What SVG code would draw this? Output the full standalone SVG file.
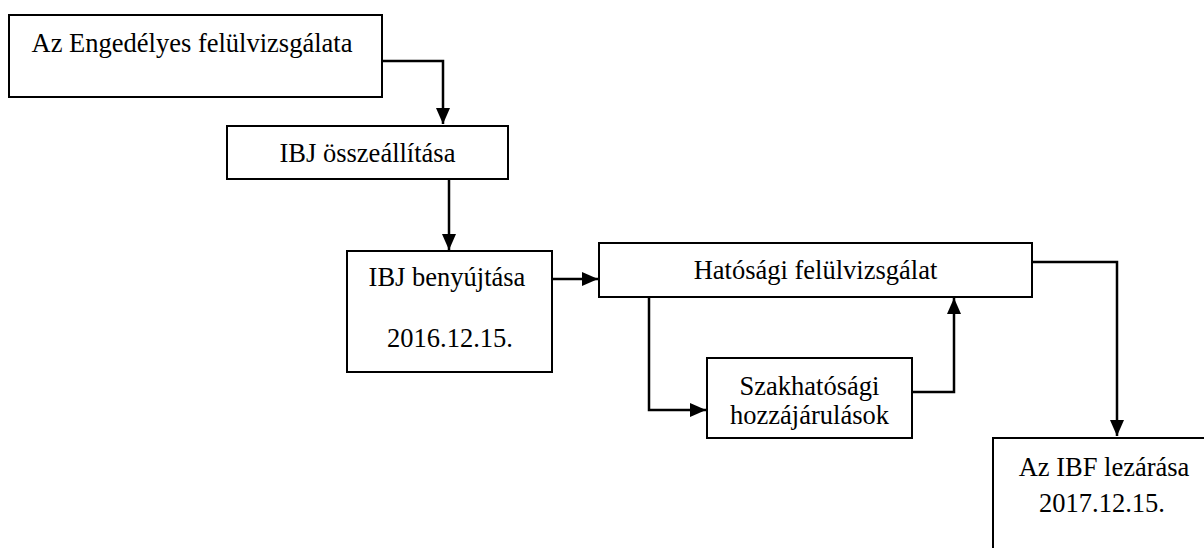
<svg xmlns="http://www.w3.org/2000/svg" width="1204" height="548" viewBox="0 0 1204 548">
<style>
.box{fill:#fff;stroke:#000;stroke-width:2}
.t{font-family:'Liberation Serif','Times New Roman',serif;font-size:26.5px;fill:#000;text-anchor:middle}
.c{fill:none;stroke:#000;stroke-width:2.5}
</style>
<defs>
<marker id="ah" markerUnits="userSpaceOnUse" markerWidth="16" markerHeight="14" refX="16" refY="7" orient="auto">
<path d="M0,0 L16,7 L0,14 z" fill="#000"/>
</marker>
</defs>
<rect width="1204" height="548" fill="#fff"/>
<g id="connectors">
<path class="c" d="M382,61 H443 V124" marker-end="url(#ah)"/>
<path class="c" d="M449,179 V250" marker-end="url(#ah)"/>
<path class="c" d="M552,279 H598" marker-end="url(#ah)"/>
<path class="c" d="M649,297 V410 H706" marker-end="url(#ah)"/>
<path class="c" d="M912,392 H954 V298" marker-end="url(#ah)"/>
<path class="c" d="M1032,262 H1117 V436" marker-end="url(#ah)"/>
</g>
<g id="n1">
<rect class="box" x="9" y="15" width="373" height="82"/>
<text class="t" x="192" y="52">Az Engedélyes felülvizsgálata</text>
</g>
<g id="n2">
<rect class="box" x="227" y="126" width="281" height="53"/>
<text class="t" x="367.5" y="162">IBJ összeállítása</text>
</g>
<g id="n3">
<rect class="box" x="347" y="251" width="205" height="121"/>
<text class="t" x="447" y="286">IBJ benyújtása</text>
<text class="t" x="450" y="347">2016.12.15.</text>
</g>
<g id="n4">
<rect class="box" x="599" y="243" width="433" height="54"/>
<text class="t" x="815.5" y="279">Hatósági felülvizsgálat</text>
</g>
<g id="n5">
<rect class="box" x="707" y="358" width="205" height="80"/>
<text class="t" x="809.5" y="395">Szakhatósági</text>
<text class="t" x="809.5" y="424">hozzájárulások</text>
</g>
<g id="n6">
<rect class="box" x="993" y="438" width="222" height="130"/>
<text class="t" x="1104" y="476">Az IBF lezárása</text>
<text class="t" x="1102" y="512">2017.12.15.</text>
</g>
</svg>
